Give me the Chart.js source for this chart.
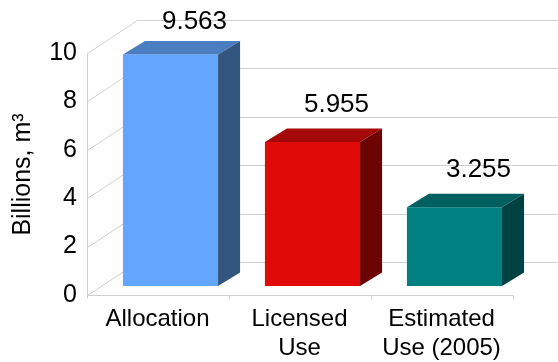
<!DOCTYPE html>
<html>
<head>
<meta charset="utf-8">
<script src="https://cdn.jsdelivr.net/npm/chart.js@4.4.1/dist/chart.umd.min.js"></script>
<style>
  html, body { margin: 0; padding: 0; background: #fff; }
  #wrap { width: 558px; height: 362px; }
</style>
</head>
<body>
<div id="wrap"><canvas id="waterChart" width="558" height="362"></canvas></div>
<script>
const categories = [['Allocation'], ['Licensed', 'Use'], ['Estimated', 'Use (2005)']];
const volumes = [9.563, 5.955, 3.255];
const yTicks = [0, 2, 4, 6, 8, 10];
const yTitle = 'Billions, m³';

const frontColors = ['#62a6fd', '#e00b09', '#008080'];
const topColors = ['#4a7ec0', '#a40808', '#005f5f'];
const sideColors = ['#335681', '#6c0404', '#004242'];

const FONT = 'Liberation Sans, Arial, sans-serif';
const GRID = '#d0d0d0';

// bar depth, front edge of the floor, and back wall offsets (px)
const BAR_DX = 22, BAR_DY = -13.5;
const FLOOR_DX = -13, FLOOR_DY = 9;
const WALL_DX = 50, WALL_DY = -33;

function poly(ctx, pts) {
  ctx.beginPath();
  ctx.moveTo(pts[0][0], pts[0][1]);
  for (let i = 1; i < pts.length; i++) ctx.lineTo(pts[i][0], pts[i][1]);
  ctx.closePath();
  ctx.fill();
}

const box3d = {
  id: 'box3d',
  beforeDatasetsDraw(chart) {
    const { ctx, chartArea: a, scales: { y } } = chart;
    const fl = Math.round(a.left + FLOOR_DX) + 0.5;
    const fr = Math.round(a.right + FLOOR_DX) + 0.5;
    ctx.save();
    ctx.strokeStyle = GRID;
    ctx.lineWidth = 1;
    // left wall diagonals + back wall lines
    yTicks.forEach(v => {
      const py = Math.round(y.getPixelForValue(v) + FLOOR_DY) + 0.5;
      ctx.beginPath();
      ctx.moveTo(fl, py);
      ctx.lineTo(fl + WALL_DX, py + WALL_DY);
      ctx.lineTo(chart.width, py + WALL_DY);
      ctx.stroke();
    });
    const y0 = Math.round(y.getPixelForValue(0) + FLOOR_DY) + 0.5;
    const yTop = Math.round(y.getPixelForValue(10) + FLOOR_DY) + 0.5;
    ctx.beginPath();
    // value axis and front edge of the floor
    ctx.moveTo(fl, yTop);
    ctx.lineTo(fl, y0 + 3);
    ctx.moveTo(fl, y0);
    ctx.lineTo(fr, y0);
    ctx.stroke();
    // category separators
    const step = (a.right - a.left) / categories.length;
    ctx.beginPath();
    for (let i = 1; i <= categories.length; i++) {
      const px = Math.round(a.left + step * i + FLOOR_DX) + 0.5;
      ctx.moveTo(px, y0);
      ctx.lineTo(px, y0 + 4);
    }
    ctx.stroke();
    ctx.restore();
  },
  afterDatasetsDraw(chart) {
    const { ctx } = chart;
    ctx.save();
    chart.getDatasetMeta(0).data.forEach((bar, i) => {
      const { x: cx, y: top, base, width } = bar.getProps(['x', 'y', 'base', 'width'], true);
      const l = cx - width / 2, r = cx + width / 2;
      ctx.fillStyle = topColors[i];
      poly(ctx, [[l, top], [l + BAR_DX, top + BAR_DY], [r + BAR_DX, top + BAR_DY], [r, top]]);
      ctx.fillStyle = sideColors[i];
      poly(ctx, [[r, top], [r + BAR_DX, top + BAR_DY], [r + BAR_DX, base + BAR_DY], [r, base]]);
      ctx.fillStyle = '#000';
      ctx.font = '26px ' + FONT;
      ctx.textAlign = 'center';
      ctx.textBaseline = 'alphabetic';
      // keep the tallest label inside the canvas
      ctx.fillText(volumes[i].toFixed(3), cx + BAR_DX + 2, Math.max(top - 30, 29));
    });
    ctx.restore();
  },
  afterDraw(chart) {
    const { ctx, chartArea: a } = chart;
    ctx.save();
    ctx.translate(23, (a.top + a.bottom) / 2 + 5 + FLOOR_DY / 2);
    ctx.rotate(-Math.PI / 2);
    ctx.fillStyle = '#000';
    ctx.font = '25px ' + FONT;
    ctx.textAlign = 'center';
    ctx.textBaseline = 'middle';
    ctx.fillText(yTitle, 0, 0);
    ctx.restore();
  }
};

new Chart(document.getElementById('waterChart'), {
  type: 'bar',
  data: {
    labels: categories,
    datasets: [{
      data: volumes,
      backgroundColor: frontColors,
      borderWidth: 0,
      barPercentage: 0.67,
      categoryPercentage: 1
    }]
  },
  options: {
    responsive: false,
    animation: false,
    layout: { padding: { top: 44, right: 32.5, bottom: 0, left: 0 } },
    plugins: { legend: { display: false }, tooltip: { enabled: false } },
    scales: {
      x: {
        grid: { display: false, drawTicks: false },
        border: { display: false },
        ticks: {
          color: '#000',
          font: { family: FONT, size: 24, lineHeight: 1.2 },
          padding: 19,
          labelOffset: FLOOR_DX,
          maxRotation: 0,
          autoSkip: false
        },
        afterFit: s => { s.height = 76; }
      },
      y: {
        min: 0,
        max: 10,
        grid: { display: false, drawTicks: false },
        border: { display: false },
        ticks: {
          stepSize: 2,
          color: '#000',
          font: { family: FONT, size: 25 },
          padding: 22.5,
          labelOffset: FLOOR_DY
        },
        afterFit: s => { s.width = 99.5; }
      }
    }
  },
  plugins: [box3d]
});
</script>
</body>
</html>
